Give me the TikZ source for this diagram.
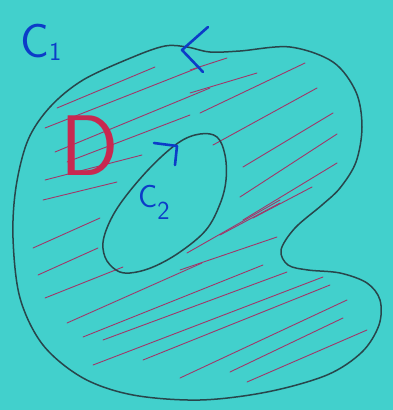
\documentclass[tikz,border=0pt]{standalone}
\usepackage{fontspec}
\newcommand\hand{\sffamily}
\definecolor{bg}{RGB}{66,208,204}
\definecolor{ink}{RGB}{40,70,75}
\definecolor{pen}{RGB}{12,60,200}
\definecolor{redpen}{RGB}{200,40,80}
\definecolor{hatch}{RGB}{160,55,105}
\tikzset{
  outline/.style={draw=ink, line width=1.5pt},
  hatchline/.style={draw=hatch, line width=0.9pt, line cap=round},
  arrowmark/.style={draw=pen, line width=2.6pt, line cap=round, line join=round},
  bluelabel/.style={text=pen, inner sep=0pt, font=\hand},
  redlabel/.style={text=redpen, inner sep=0pt, font=\hand}
}
\begin{document}
\begin{tikzpicture}[x=1pt,y=-1pt]
\useasboundingbox (0,0) rectangle (393,410);
\fill[bg] (0,0) rectangle (393,410);
% hatching of region D
\foreach \a/\b/\c/\d in {
 57/108/155/67, 45/128/200/67, 55/152/210/88, 67/162/190/115,
 45/180/142/155, 43/200/117/182, 33/248/100/218, 38/275/98/248,
 45/298/123/267, 67/323/202/263, 83/337/263/265, 103/340/287/272,
 93/365/323/277, 143/360/330/285, 180/378/347/300, 230/372/343/318,
 247/382/367/330, 187/253/280/200, 220/235/280/203, 180/270/277/237,
 190/70/227/58, 190/93/257/73, 200/113/305/63, 213/145/317/88,
 243/167/333/113, 240/197/337/134, 243/220/337/163, 253/218/312/187}
 {\draw[hatchline] (\a,\b) -- (\c,\d);}
% outer curve C1
\draw[outline] plot[smooth cycle, tension=0.55] coordinates {
 (187,47) (210,52) (240,51) (290,47) (333,62) (356,92) (362,127)
 (356,162) (340,188) (322,205) (295,228) (281,250) (288,265) (308,270)
 (340,273) (367,283) (380,300) (379,325) (362,352) (327,375) (267,392)
 (200,400) (133,395) (83,378) (43,345) (20,298) (13,238) (16,187)
 (28,140) (50,107) (83,80) (133,57) (165,46)};
% inner curve C2
\draw[outline] plot[smooth cycle, tension=0.6] coordinates {
 (200,134) (217,137) (225,155) (226,180) (220,204) (206,230) (180,252)
 (153,267) (130,273) (116,270) (105,257) (104,237) (118,207) (148,170)
 (178,143)};
% orientation marks
\coordinate (a1) at (208,27);
\coordinate (a2) at (182,50);
\coordinate (a3) at (203,72);
\draw[arrowmark] (a1) -- (a2) -- (a3);
\coordinate (b1) at (154,143);
\coordinate (b2) at (177,146);
\coordinate (b3) at (175,165);
\draw[arrowmark] (b1) -- (b2) -- (b3);
% labels
\node[bluelabel, anchor=base west] (c1) at (20,57)
 {{\fontsize{48}{48}\selectfont C}{\fontsize{26}{26}\selectfont\raisebox{-3pt}{1}}};
\node[redlabel, anchor=base west] (d) at (60,175)
 {\fontsize{86}{86}\selectfont D};
\node[bluelabel, anchor=base west] (c2) at (138,207)
 {{\fontsize{32}{32}\selectfont C}{\fontsize{26}{26}\selectfont\raisebox{-12pt}{2}}};
\end{tikzpicture}
\end{document}
